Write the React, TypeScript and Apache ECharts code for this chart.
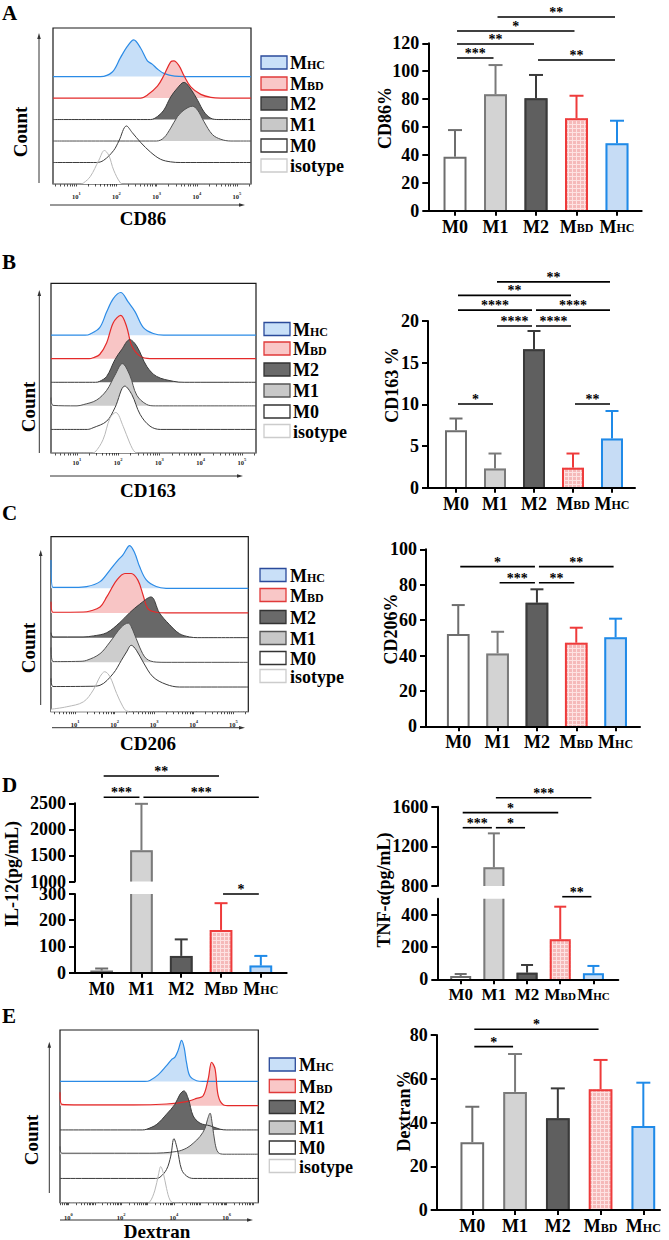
import React, { useEffect, useRef } from "react";
import * as echarts from "echarts";

const FONT = "'Liberation Serif','Times New Roman','DejaVu Serif',serif";

// ---------- categories ----------
const groups = ["M0", "M1", "M2", "MBD", "MHC"];
const histRows = ["MHC", "MBD", "M2", "M1", "M0", "isotype"]; // top -> bottom

// ---------- histogram curves: [log10 intensity, normalised count (row units)] ----------
const cd86_MHC = [[0.42,0],[1.6,0],[1.89,0.2],[2.1,0.88],[2.27,1.4],[2.43,1.71],[2.6,1.33],[2.77,0.73],[2.89,0.58],[3.02,0.35],[3.18,0.15],[3.45,0.02],[3.7,0],[5.35,0]];
const cd86_MBD = [[0.42,0],[2.6,0],[2.77,0.14],[3.02,0.55],[3.18,1.05],[3.35,1.68],[3.43,1.73],[3.56,1.5],[3.68,1.05],[3.85,0.52],[4.1,0.17],[4.35,0.03],[4.6,0],[5.35,0]];
const cd86_M2 = [[0.42,0],[2.85,0],[3.02,0.14],[3.18,0.44],[3.35,1.05],[3.52,1.47],[3.68,1.73],[3.85,1.42],[4.02,0.9],[4.18,0.36],[4.35,0.06],[4.55,0],[5.35,0]];
const cd86_M1 = [[0.42,0],[3.0,0],[3.18,0.15],[3.35,0.6],[3.52,1.14],[3.68,1.44],[3.89,1.62],[4.02,1.44],[4.18,0.9],[4.39,0.3],[4.6,0.08],[4.85,0],[5.35,0]];
const cd86_M0 = [[0.42,0],[1.5,0],[1.68,0.1],[1.93,0.56],[2.06,1.0],[2.25,1.7],[2.39,1.4],[2.6,0.94],[2.85,0.48],[3.1,0.15],[3.35,0.03],[3.6,0],[5.35,0]];
const cd86_iso = [[0.42,0],[1.1,0],[1.18,0.05],[1.35,0.35],[1.56,1.1],[1.7,1.56],[1.81,1.33],[1.93,0.65],[2.1,0.05],[2.2,0],[5.35,0]];

const cd163_MHC = [[0.37,0],[1.2,0],[1.31,0.04],[1.55,0.32],[1.72,0.99],[1.88,1.55],[2.06,1.81],[2.24,1.41],[2.41,0.99],[2.61,0.32],[2.85,0.07],[3.1,0],[5.34,0]];
const cd163_MBD = [[0.37,0],[1.3,0],[1.39,0.04],[1.55,0.18],[1.72,0.68],[1.88,1.53],[2.06,1.84],[2.2,1.38],[2.33,0.54],[2.53,0.11],[2.77,0],[5.34,0]];
const cd163_M2 = [[0.37,0],[1.45,0],[1.55,0.04],[1.72,0.25],[1.92,0.96],[2.08,1.38],[2.28,1.81],[2.45,1.53],[2.69,0.68],[2.93,0.25],[3.34,0.04],[3.6,0],[5.34,0]];
const cd163_M1 = [[0.37,0.35],[0.42,0.02],[1.0,0],[1.15,0.05],[1.47,0.24],[1.72,0.66],[1.92,1.3],[2.1,1.79],[2.28,1.3],[2.45,0.45],[2.69,0.06],[2.9,0],[5.34,0]];
const cd163_M0 = [[0.37,0],[1.25,0],[1.39,0.07],[1.72,0.35],[1.92,0.92],[2.16,1.84],[2.33,1.48],[2.53,0.64],[2.77,0.14],[3.02,0],[5.34,0]];
const cd163_iso = [[0.37,0],[1.35,0],[1.43,0.03],[1.63,0.56],[1.8,1.48],[1.94,1.72],[2.12,1.13],[2.28,0.42],[2.41,0.03],[2.5,0],[5.34,0]];

const cd206_MHC = [[0.39,1.15],[0.44,0.04],[1.0,0.04],[1.29,0.07],[1.63,0.27],[1.88,0.74],[2.09,1.15],[2.21,1.35],[2.38,1.73],[2.51,1.42],[2.63,0.88],[2.8,0.34],[3.05,0.07],[3.3,0],[5.38,0]];
const cd206_MBD = [[0.39,0.45],[0.44,0.03],[1.2,0.04],[1.38,0.08],[1.63,0.24],[1.8,0.65],[2.05,1.32],[2.26,1.6],[2.42,1.6],[2.59,1.32],[2.72,0.72],[2.84,0.18],[3.05,0.03],[3.3,0],[5.38,0]];
const cd206_M2 = [[0.39,0.2],[0.44,0.03],[1.2,0.03],[1.46,0.07],[1.8,0.2],[2.13,0.61],[2.38,1.01],[2.63,1.35],[2.92,1.65],[3.13,1.01],[3.38,0.54],[3.64,0.16],[3.89,0.03],[4.1,0],[5.38,0]];
const cd206_M1 = [[0.39,0.6],[0.44,0.03],[1.1,0.04],[1.29,0.08],[1.63,0.35],[1.88,0.82],[2.17,1.43],[2.34,1.59],[2.46,1.3],[2.63,0.62],[2.8,0.15],[3.05,0.01],[3.3,0],[5.38,0]];
const cd206_M0 = [[0.39,0.35],[0.44,0.02],[1.4,0.03],[1.63,0.07],[1.96,0.54],[2.17,1.08],[2.3,1.42],[2.42,1.69],[2.55,1.49],[2.72,1.01],[2.97,0.41],[3.3,0.11],[3.64,0],[5.38,0]];
const cd206_iso = [[0.39,0.1],[0.79,0.2],[1.21,0.4],[1.46,0.88],[1.63,1.42],[1.75,1.62],[1.88,1.42],[2.05,0.74],[2.21,0.2],[2.3,0.03],[2.45,0],[5.38,0]];

const dex_MHC = [[-0.32,0],[2.9,0],[3.09,0.04],[3.41,0.28],[3.72,0.65],[3.91,0.9],[4.04,1.0],[4.17,1.31],[4.29,1.69],[4.39,1.38],[4.48,0.76],[4.61,0.21],[4.86,0.03],[5.1,0],[7.2,0]];
const dex_MBD = [[-0.32,0.55],[-0.25,0.05],[0.5,0.03],[2.46,0.03],[3.72,0.07],[4.48,0.17],[4.86,0.3],[5.11,0.41],[5.3,1.1],[5.43,1.79],[5.56,1.52],[5.68,0.41],[5.87,0.04],[6.12,0],[7.2,0]];
const dex_M2 = [[-0.32,0],[2.8,0],[2.97,0.03],[3.35,0.23],[3.72,0.65],[4.04,1.06],[4.23,1.47],[4.38,1.61],[4.55,1.27],[4.73,0.58],[4.99,0.28],[5.37,0.17],[5.75,0.03],[6.0,0],[7.2,0]];
const dex_M1 = [[-0.32,0.32],[-0.25,0.04],[3.09,0.04],[4.1,0.11],[4.48,0.25],[4.73,0.45],[4.99,0.73],[5.18,1.07],[5.27,1.42],[5.37,1.69],[5.45,1.28],[5.56,0.45],[5.68,0.07],[5.9,0],[7.2,0]];
const dex_M0 = [[-0.32,0],[3.3,0],[3.47,0.05],[3.72,0.37],[3.88,0.92],[4.0,1.64],[4.13,1.2],[4.29,0.37],[4.48,0.1],[4.73,0],[7.2,0]];
const dex_iso = [[-0.32,0],[2.95,0],[3.09,0.04],[3.28,0.52],[3.41,1.14],[3.5,1.49],[3.6,1.21],[3.72,0.59],[3.85,0.11],[3.98,0],[7.2,0]];

// ---------- bar data (mean, SD) ----------
const cd86Mean = [38.7, 83.4, 80.6, 66.2, 48.3];
const cd86Sd = [19.1, 21.0, 16.7, 16.2, 16.2];
const cd163Mean = [6.9, 2.3, 16.6, 2.4, 5.9];
const cd163Sd = [1.4, 1.8, 2.2, 1.7, 3.3];
const cd206Mean = [52.1, 41.2, 69.8, 47.2, 50.3];
const cd206Sd = [16.4, 12.2, 7.6, 8.5, 10.5];
const il12Mean = [8, 1600, 64, 163, 27];
const il12Sd = [8, 890, 63, 102, 37];
const tnfMean = [20, 988, 41, 248, 37];
const tnfSd = [13, 343, 48, 203, 46];
const dexMean = [31, 54, 42, 55.2, 38.4];
const dexSd = [16.2, 17.3, 13.6, 13.4, 19.8];

// ---------- tick labels ----------
const cd86Ticks = [0, 20, 40, 60, 80, 100, 120];
const cd163Ticks = [0, 5, 10, 15, 20];
const cd206Ticks = [0, 20, 40, 60, 80, 100];
const il12TicksTop = [1000, 1500, 2000, 2500];
const il12TicksBottom = [0, 100, 200, 300];
const tnfTicksTop = [800, 1200, 1600];
const tnfTicksBottom = [0, 200, 400];
const dexTicks = [0, 20, 40, 60, 80];
const histDecadesA = [1, 2, 3, 4, 5];
const histDecadesE = [0, 2, 4, 6];

// ---------- significance: [from, to, level, stars] ----------
const cd86Sig = [[0, 1, 109.5, 3], [0, 2, 119.5, 2], [0, 3, 128.8, 1], [1, 4, 138.9, 2], [2, 4, 108, 2]];
const cd163Sig = [[0, 1, 10.04, 1], [3, 4, 10.04, 2], [1, 2, 19.4, 4], [2, 3, 19.4, 4], [0, 2, 21.3, 4], [2, 4, 21.3, 4], [0, 3, 23.08, 2], [1, 4, 24.7, 2]];
const cd206Sig = [[0, 2, 90.2, 1], [2, 4, 90.2, 2], [1, 2, 81.1, 3], [2, 3, 81.1, 2]];
const il12SigTop = [[0, 3, 3025, 2], [0, 1, 2616, 3], [1, 4, 2616, 3]];
const il12SigBottom = [[3, 4, 300, 1]];
const tnfSigTop = [[1, 4, 1691, 3], [0, 3, 1540, 1], [0, 1, 1388, 3], [1, 2, 1388, 1]];
const tnfSigBottom = [[3, 4, 513, 2]];
const dexSig = [[0, 1, 74.7, 1], [0, 3, 82.6, 1]];

// ---------- styles ----------
const HIST_STYLE: Record<string, { line: string; fill: string; lw: number }> = {
  MHC: { line: "#2b8be6", fill: "#c7dff8", lw: 1.2 },
  MBD: { line: "#e42a2a", fill: "#f8c5c5", lw: 1.2 },
  M2: { line: "#3a3a3a", fill: "#686868", lw: 1 },
  M1: { line: "#505050", fill: "#cdcdcd", lw: 1 },
  M0: { line: "#3c3c3c", fill: "#ffffff", lw: 1 },
  isotype: { line: "#b8b8b8", fill: "#ffffff", lw: 1 },
};
const LEG_STYLE: Record<string, { fill: string; stroke: string }> = {
  MHC: { fill: "#c9e0f8", stroke: "#2a4a9a" },
  MBD: { fill: "#f9c7c7", stroke: "#e03a3a" },
  M2: { fill: "#6a6a6a", stroke: "#333333" },
  M1: { fill: "#c8c8c8", stroke: "#555555" },
  M0: { fill: "#ffffff", stroke: "#333333" },
  isotype: { fill: "#ffffff", stroke: "#cccccc" },
};

const richLabel = (name: string) => {
  if (name === "MBD") return "{m|M}{s|BD}";
  if (name === "MHC") return "{m|M}{s|HC}";
  return "{m|" + name + "}";
};

function minorTicks(xmin: number, xmax: number) {
  const out: number[] = [];
  for (let n = Math.floor(xmin); n <= Math.ceil(xmax); n++) {
    for (let k = 1; k <= 9; k++) {
      const v = n + Math.log10(k);
      if (v >= xmin && v <= xmax) out.push(v);
    }
  }
  return out;
}

function buildOption(mbdFill: any) {
  const grids: any[] = [];
  const xAxes: any[] = [];
  const yAxes: any[] = [];
  const series: any[] = [];
  const graphics: any[] = [];

  const BAR_STYLE = [
    { fill: "#ffffff", stroke: "#6e6e6e" },
    { fill: "#d3d3d3", stroke: "#7a7a7a" },
    { fill: "#5f5f5f", stroke: "#3a3a3a" },
    { fill: mbdFill, stroke: "#ee3b3b" },
    { fill: "#c6dcf5", stroke: "#1f8ae8" },
  ];

  // ---- histograms ----
  const histPanels = [
    { grid: { left: 53, top: 28, width: 198, height: 156 }, xmin: 0.42, xmax: 5.35, ymax: 7.26, labels: histDecadesA, margin: 7, curves: [cd86_MHC, cd86_MBD, cd86_M2, cd86_M1, cd86_M0, cd86_iso] },
    { grid: { left: 51, top: 283.3, width: 205, height: 169.7 }, xmin: 0.37, xmax: 5.34, ymax: 7.2, labels: histDecadesA, margin: 4, curves: [cd163_MHC, cd163_MBD, cd163_M2, cd163_M1, cd163_M0, cd163_iso] },
    { grid: { left: 51, top: 536.7, width: 197.3, height: 175 }, xmin: 0.39, xmax: 5.38, ymax: 7.09, labels: histDecadesA, margin: 7, curves: [cd206_MHC, cd206_MBD, cd206_M2, cd206_M1, cd206_M0, cd206_iso] },
    { grid: { left: 60, top: 1030, width: 198.3, height: 172.7 }, xmin: -0.32, xmax: 7.2, ymax: 7.12, labels: histDecadesE, margin: 9, curves: [dex_MHC, dex_MBD, dex_M2, dex_M1, dex_M0, dex_iso] },
  ];
  histPanels.forEach((p) => {
    grids.push({ ...p.grid, show: true, borderColor: "#1a1a1a", borderWidth: 1.2 });
    const gi = grids.length - 1;
    xAxes.push({
      type: "value", gridIndex: gi, min: p.xmin, max: p.xmax,
      axisLine: { show: false }, splitLine: { show: false },
      axisTick: { show: true, customValues: minorTicks(p.xmin, p.xmax), length: 2.5, lineStyle: { color: "#222", width: 0.8 } },
      axisLabel: {
        show: true, customValues: p.labels, margin: p.margin, hideOverlap: false, showMinLabel: true, showMaxLabel: true,
        formatter: (v: number) => "{b|10}{s|" + v + "}",
        rich: {
          b: { fontSize: 6.5, fontFamily: FONT, fontWeight: "bold", color: "#222", lineHeight: 9, verticalAlign: "bottom" },
          s: { fontSize: 4.5, fontFamily: FONT, fontWeight: "bold", color: "#222", lineHeight: 9, verticalAlign: "top" },
        },
      },
    });
    yAxes.push({ type: "value", gridIndex: gi, min: 0, max: p.ymax, show: false });
    p.curves.forEach((c, r) => {
      const off = 5 - r;
      const st = HIST_STYLE[histRows[r]];
      series.push({
        type: "line", xAxisIndex: gi, yAxisIndex: gi, silent: true,
        data: c.map((pt) => [pt[0], pt[1] + off]),
        smooth: 0.35, symbol: "none", showSymbol: false,
        lineStyle: { color: st.line, width: st.lw },
        areaStyle: { color: st.fill, opacity: 1, origin: off },
      });
    });
  });

  // ---- bar charts ----
  const barPanels = [
    { xmin: -0.66, xmax: 4.61, barW: 23, capW: 14, catFont: 18, mean: cd86Mean, sd: cd86Sd,
      grids: [{ g: { left: 428.3, top: 43.3, width: 213.4, height: 167.4 }, ymin: 0, ymax: 120, ticks: cd86Ticks, showX: true, sig: cd86Sig }] },
    { xmin: -0.718, xmax: 4.59, barW: 22, capW: 13, catFont: 18, mean: cd163Mean, sd: cd163Sd,
      grids: [{ g: { left: 428, top: 321, width: 207, height: 166.7 }, ymin: 0, ymax: 20, ticks: cd163Ticks, showX: true, sig: cd163Sig }] },
    { xmin: -0.82, xmax: 4.62, barW: 22.7, capW: 13, catFont: 18, mean: cd206Mean, sd: cd206Sd,
      grids: [{ g: { left: 426, top: 549.3, width: 214, height: 177 }, ymin: 0, ymax: 100, ticks: cd206Ticks, showX: true, sig: cd206Sig }] },
    { xmin: -0.67, xmax: 4.65, barW: 22.7, capW: 13, catFont: 18, mean: il12Mean, sd: il12Sd,
      grids: [
        { g: { left: 75, top: 803.3, width: 211.7, height: 78.2 }, ymin: 1000, ymax: 2500, ticks: il12TicksTop, showX: false, sig: il12SigTop },
        { g: { left: 75, top: 894, width: 211.7, height: 78.7 }, ymin: 0, ymax: 300, ticks: il12TicksBottom, showX: true, sig: il12SigBottom },
      ] },
    { xmin: -0.705, xmax: 4.75, barW: 21, capW: 12, catFont: 17, mean: tnfMean, sd: tnfSd,
      grids: [
        { g: { left: 437.3, top: 806.7, width: 181, height: 79.3 }, ymin: 800, ymax: 1600, ticks: tnfTicksTop, showX: false, sig: tnfSigTop },
        { g: { left: 437.3, top: 898.8, width: 181, height: 80.5 }, ymin: 0, ymax: 500, ticks: tnfTicksBottom, showX: true, sig: tnfSigBottom },
      ] },
    { xmin: -0.833, xmax: 4.39, barW: 23.7, capW: 14, catFont: 18, mean: dexMean, sd: dexSd,
      grids: [{ g: { left: 436.7, top: 1035, width: 223.3, height: 175 }, ymin: 0, ymax: 80, ticks: dexTicks, showX: true, sig: dexSig }] },
  ];

  barPanels.forEach((bp) => {
    const catRich = {
      m: { fontSize: bp.catFont, fontFamily: FONT, fontWeight: "bold", color: "#000", verticalAlign: "bottom" },
      s: { fontSize: Math.round(bp.catFont * 0.65), fontFamily: FONT, fontWeight: "bold", color: "#000", verticalAlign: "bottom", padding: [0, 0, 1.5, 0] },
    };
    bp.grids.forEach((gd) => {
      grids.push({ ...gd.g });
      const gi = grids.length - 1;
      xAxes.push({
        type: "value", gridIndex: gi, min: bp.xmin, max: bp.xmax, z: 5,
        show: gd.showX,
        axisLine: { show: gd.showX, onZero: false, lineStyle: { color: "#000", width: 2 } },
        axisTick: { show: gd.showX, customValues: [0, 1, 2, 3, 4], length: 5, lineStyle: { color: "#000", width: 2 } },
        axisLabel: { show: gd.showX, customValues: [0, 1, 2, 3, 4], margin: 7, hideOverlap: false, showMinLabel: true, showMaxLabel: true, formatter: (v: number) => richLabel(groups[Math.round(v)] || ""), rich: catRich },
        splitLine: { show: false },
      });
      yAxes.push({
        type: "value", gridIndex: gi, min: gd.ymin, max: gd.ymax, z: 5,
        axisLine: { show: true, onZero: false, lineStyle: { color: "#000", width: 2 } },
        axisTick: { show: true, customValues: gd.ticks, length: 6, lineStyle: { color: "#000", width: 2 } },
        axisLabel: { show: true, customValues: gd.ticks, margin: 9, hideOverlap: false, showMinLabel: true, showMaxLabel: true, formatter: (v: number) => String(v), fontSize: 18, lineHeight: 12, fontFamily: FONT, fontWeight: "bold", color: "#000" },
        splitLine: { show: false },
      });
      const barW = bp.barW, capW = bp.capW;
      series.push({
        type: "custom", xAxisIndex: gi, yAxisIndex: gi, clip: false, silent: true,
        data: groups.map((_, i) => [i, bp.mean[i], bp.sd[i]]),
        renderItem: (params: any, api: any) => {
          const i = api.value(0), m = api.value(1), s = api.value(2);
          const cs = params.coordSys;
          const top = cs.y, bot = cs.y + cs.height;
          const pBase = api.coord([i, 0]);
          const pTop = api.coord([i, m]);
          const pErr = api.coord([i, m + s]);
          if (pTop[1] >= bot - 0.01) return { type: "group", children: [] };
          const cx = pTop[0], hw = barW / 2, lw = 2;
          const yb = Math.min(pBase[1], bot), yt = Math.max(pTop[1], top);
          const st = BAR_STYLE[i];
          const xl = cx - hw + lw / 2, xr = cx + hw - lw / 2;
          const ch: any[] = [
            { type: "rect", shape: { x: cx - hw, y: yt, width: barW, height: yb - yt }, style: { fill: st.fill } },
          ];
          if (pTop[1] >= top) {
            ch.push({ type: "polyline", shape: { points: [[xl, yb], [xl, yt + lw / 2], [xr, yt + lw / 2], [xr, yb]] }, style: { stroke: st.stroke, lineWidth: lw, fill: "none" } });
            const ye = Math.max(pErr[1], top);
            ch.push({ type: "line", shape: { x1: cx, y1: yt, x2: cx, y2: ye }, style: { stroke: st.stroke, lineWidth: lw, fill: "none" } });
            if (pErr[1] >= top) ch.push({ type: "line", shape: { x1: cx - capW / 2, y1: pErr[1], x2: cx + capW / 2, y2: pErr[1] }, style: { stroke: st.stroke, lineWidth: lw, fill: "none" } });
          } else {
            ch.push({ type: "line", shape: { x1: xl, y1: yb, x2: xl, y2: yt }, style: { stroke: st.stroke, lineWidth: lw, fill: "none" } });
            ch.push({ type: "line", shape: { x1: xr, y1: yb, x2: xr, y2: yt }, style: { stroke: st.stroke, lineWidth: lw, fill: "none" } });
          }
          return { type: "group", children: ch };
        },
      });
      series.push({
        type: "custom", xAxisIndex: gi, yAxisIndex: gi, clip: false, silent: true,
        encode: { x: 0, y: 2 },
        data: gd.sig,
        renderItem: (params: any, api: any) => {
          const a = api.value(0), b = api.value(1), y = api.value(2), n = api.value(3);
          const p1 = api.coord([a, y]);
          const p2 = api.coord([b, y]);
          const stars = "*".repeat(n);
          return {
            type: "group",
            children: [
              { type: "line", shape: { x1: p1[0] + 2, y1: p1[1], x2: p2[0] - 2, y2: p2[1] }, style: { stroke: "#000", lineWidth: 1.6, fill: "none" } },
              { type: "text", style: { text: stars, x: (p1[0] + p2[0]) / 2, y: p1[1] - 4.5, align: "center", verticalAlign: "middle", textAlign: "center", textVerticalAlign: "middle", font: "bold 14px " + FONT, fill: "#000" } },
            ],
          };
        },
      });
    });
  });

  // ---- graphics: panel letters ----
  const letters: [string, number][] = [["A", 13], ["B", 262], ["C", 513], ["D", 785], ["E", 1016]];
  letters.forEach(([t, y]) => graphics.push({ type: "text", x: 2, y, style: { text: t, font: "bold 21px " + FONT, fill: "#000", verticalAlign: "middle", textVerticalAlign: "middle" } }));

  // ---- histogram decorations ----
  const histDeco = [
    { countX: 20, countY: 132, arX: 39, arTop: 33, arBot: 183, xaY: 205, xaL: 50, xaR: 245, title: "CD86", tX: 143, tY: 218, legX: 261, legYs: [62.5, 83.5, 103.5, 124.5, 145.5, 165.5], legT: 290 },
    { countX: 28, countY: 407, arX: 39.3, arTop: 290, arBot: 453, xaY: 476, xaL: 50, xaR: 243, title: "CD163", tX: 148, tY: 490, legX: 264, legYs: [329, 348.5, 369.5, 390.5, 411.5, 431], legT: 293 },
    { countX: 28, countY: 648, arX: 40.7, arTop: 550, arBot: 705, xaY: 727.7, xaL: 52, xaR: 245, title: "CD206", tX: 148, tY: 743, legX: 260, legYs: [575, 595, 617, 638, 658, 676], legT: 290 },
    { countX: 31, countY: 1140, arX: 49.3, arTop: 1041.7, arBot: 1193, xaY: 1220, xaL: 60, xaR: 253, title: "Dextran", tX: 157, tY: 1231, legX: 269.3, legYs: [1064.5, 1086, 1107, 1127.5, 1147.5, 1166], legT: 299 },
  ];
  const LEG_M = 18, LEG_S = 12;
  const legParts: Record<string, [string, string]> = {
    MHC: ["M", "HC"], MBD: ["M", "BD"], M2: ["M2", ""], M1: ["M1", ""], M0: ["M0", ""], isotype: ["isotype", ""],
  };
  histDeco.forEach((d) => {
    graphics.push({ type: "text", x: d.countX, y: d.countY, rotation: Math.PI / 2, style: { text: "Count", x: 0, y: 0, font: "bold 19px " + FONT, fill: "#000", align: "center", verticalAlign: "middle", textAlign: "center", textVerticalAlign: "middle" } });
    graphics.push({ type: "line", shape: { x1: d.arX, y1: d.arBot, x2: d.arX, y2: d.arTop + 5 }, style: { stroke: "#333", lineWidth: 1 } });
    graphics.push({ type: "polygon", shape: { points: [[d.arX, d.arTop], [d.arX - 1.8, d.arTop + 6], [d.arX + 1.8, d.arTop + 6]] }, style: { fill: "#333" } });
    graphics.push({ type: "line", shape: { x1: d.xaL, y1: d.xaY, x2: d.xaR - 5, y2: d.xaY }, style: { stroke: "#333", lineWidth: 1 } });
    graphics.push({ type: "polygon", shape: { points: [[d.xaR, d.xaY], [d.xaR - 6, d.xaY - 1.8], [d.xaR - 6, d.xaY + 1.8]] }, style: { fill: "#333" } });
    graphics.push({ type: "text", x: d.tX, y: d.tY, style: { text: d.title, x: 0, y: 0, font: "bold 19px " + FONT, fill: "#000", align: "center", verticalAlign: "middle", textAlign: "center", textVerticalAlign: "middle" } });
    histRows.forEach((r, k) => {
      const ls = LEG_STYLE[r];
      const yc = d.legYs[k];
      graphics.push({ type: "rect", shape: { x: d.legX, y: yc - 6.5, width: 26, height: 13 }, style: { fill: ls.fill, stroke: ls.stroke, lineWidth: 1.3 } });
      const [big, small] = legParts[r];
      const base = yc + 7;
      graphics.push({ type: "text", x: d.legT, y: base - 0.3375 * LEG_M, style: { text: big, x: 0, y: 0, font: "bold " + LEG_M + "px " + FONT, fill: "#000", align: "left", verticalAlign: "middle", textAlign: "left", textVerticalAlign: "middle" } });
      if (small) graphics.push({ type: "text", x: d.legT + 0.944 * LEG_M, y: base - 0.3375 * LEG_S, style: { text: small, x: 0, y: 0, font: "bold " + LEG_S + "px " + FONT, fill: "#000", align: "left", verticalAlign: "middle", textAlign: "left", textVerticalAlign: "middle" } });
    });
  });

  // ---- y axis titles of bar charts ----
  const yTitles: [string, number, number][] = [
    ["CD86%", 385, 118], ["CD163 %", 392, 385], ["CD206%", 391, 629],
    ["IL-12(pg/mL)", 12, 874], ["TNF-α(pg/mL)", 384, 890], ["Dextran%", 403.5, 1111],
  ];
  yTitles.forEach(([t, x, y]) => graphics.push({ type: "text", x, y, rotation: Math.PI / 2, style: { text: t, x: 0, y: 0, font: "bold 18px " + FONT, fill: "#000", align: "center", verticalAlign: "middle", textAlign: "center", textVerticalAlign: "middle" } }));

  return {
    animation: false,
    backgroundColor: "#ffffff",
    grid: grids,
    xAxis: xAxes,
    yAxis: yAxes,
    series,
    graphic: { elements: graphics },
  };
}

export default function App() {
  const ref = useRef<HTMLDivElement>(null);
  useEffect(() => {
    const el = ref.current!;
    const chart = echarts.init(el, null, { renderer: "svg", width: 669, height: 1240 });
    let mbdFill: any = "#f7c4c4";
    try {
      const cv = document.createElement("canvas");
      cv.width = 4; cv.height = 4;
      const ctx = cv.getContext("2d");
      if (ctx) {
        ctx.fillStyle = "#f5b9b9"; ctx.fillRect(0, 0, 4, 4);
        ctx.fillStyle = "#fde2e2"; ctx.fillRect(0, 0, 4, 1); ctx.fillRect(0, 0, 1, 4);
        mbdFill = { image: cv.toDataURL(), repeat: "repeat", imageWidth: 4, imageHeight: 4 };
      }
    } catch (e) { /* keep solid */ }
    chart.setOption(buildOption(mbdFill));
    return () => chart.dispose();
  }, []);
  return <div ref={ref} style={{ position: "absolute", left: 0, top: 0, width: 669, height: 1240, background: "#fff" }} />;
}
